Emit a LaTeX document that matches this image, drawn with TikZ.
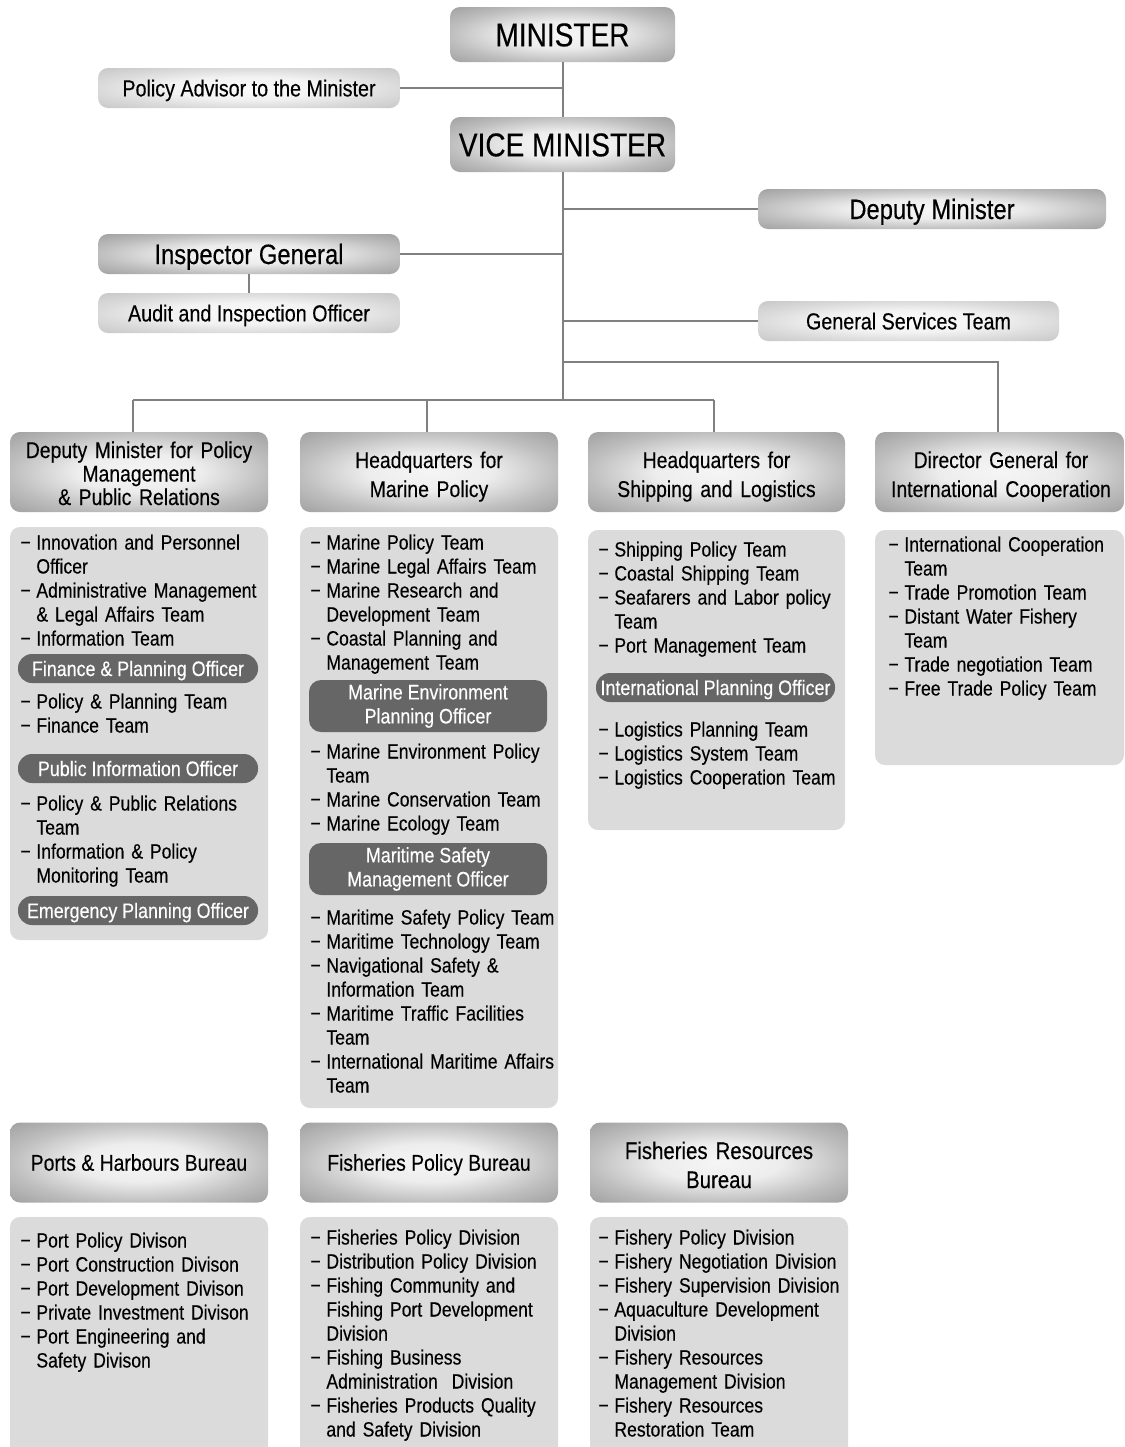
\documentclass[tikz,border=0pt]{standalone}
\usepackage{fontspec}
\setmainfont{Liberation Sans}[FakeStretch=0.85,FakeBold=0.3]
\definecolor{linecol}{HTML}{808080}
\definecolor{bodycol}{HTML}{DBDBDB}
\definecolor{pillcol}{HTML}{666666}
\definecolor{hdrin}{HTML}{F5F5F5}
\definecolor{hdrpl}{HTML}{EDEDED}
\definecolor{hdrmid}{HTML}{BEBEBE}
\definecolor{hdrout}{HTML}{A2A2A2}
\definecolor{ltin}{HTML}{FBFBFB}
\definecolor{ltpl}{HTML}{F2F2F2}
\definecolor{ltmid}{HTML}{DADADA}
\definecolor{ltout}{HTML}{C8C8C8}
\pgfdeclareradialshading{hdrshade}{\pgfpoint{0bp}{0bp}}{color(0bp)=(hdrin); color(12bp)=(hdrpl); color(25bp)=(hdrmid); color(35bp)=(hdrout); color(50bp)=(hdrout)}
\pgfdeclareradialshading{ltshade}{\pgfpoint{0bp}{0bp}}{color(0bp)=(ltin); color(14bp)=(ltpl); color(25bp)=(ltmid); color(35bp)=(ltout); color(50bp)=(ltout)}
\newcommand\itm[1]{\makebox[8pt][l]{−}#1}
\newcommand\cnt[1]{\hspace*{8pt}#1}
\tikzset{
  conn/.style={draw=linecol, line width=0.75pt},
  shadebox/.style={rounded corners=5pt, shading=hdrshade, inner sep=0pt},
  lightbox/.style={rounded corners=5pt, shading=ltshade, inner sep=0pt},
  bighdr/.style={shadebox, minimum width=112.5pt, minimum height=27.5pt, font=\fontsize{16.5}{18}\selectfont, text height=11.8pt, text depth=0pt},
  midhdr/.style={shadebox, minimum height=20pt, font=\fontsize{14}{16}\selectfont, text height=10pt, text depth=0pt},
  smallhdr/.style={lightbox, minimum height=20pt, font=\fontsize{11.6}{14}\selectfont, text height=8.4pt, text depth=0pt},
  colhdr/.style={shadebox, minimum width=129pt, minimum height=40pt},
  hdrtxt/.style={anchor=base, inner sep=0pt, text width=129pt, align=center, font=\fontsize{11.4}{14.5}\selectfont},
  colhdr1/.style={colhdr, font=\fontsize{11.4}{14.5}\selectfont, text height=8.2pt, text depth=0pt},
  bodybox/.style={fill=bodycol, rounded corners=5pt, inner sep=0pt, minimum width=129pt},
  pill/.style={fill=pillcol, text=white, rounded corners=6pt, inner sep=0pt, align=center, font=\fontsize{10.5}{12}\selectfont},
  pill1/.style={pill, minimum height=14.5pt, rounded corners=7pt, text height=7.5pt, text depth=0pt},
  lst/.style={anchor=base west, inner sep=0pt, text width=140pt, align=left, font=\fontsize{10.35}{12}\selectfont},
}
\begin{document}
\begin{tikzpicture}[x=0.5pt, y=-0.5pt]
\useasboundingbox (0,0) rectangle (1125,1447);
\clip (0,0) rectangle (1125,1447);
\fill[white] (0,0) rectangle (1125,1447);

% top level
\node[bighdr] (min) at (562.5,34.5) {MINISTER};
\node[smallhdr, minimum width=151pt] (adv) at (249,88) {Policy Advisor to the Minister};
\node[bighdr] (vice) at (562.5,144.5) {VICE MINISTER};
\node[midhdr, minimum width=174pt] (dep) at (932,209) {Deputy Minister};
\node[midhdr, minimum width=151pt] (insp) at (249,254) {Inspector General};
\node[smallhdr, minimum width=151pt] (aud) at (249,313) {Audit and Inspection Officer};
\node[smallhdr, minimum width=150.5pt] (gst) at (908.5,321) {General Services Team};

% column headers
\node[colhdr] (h1) at (139,472) {};
\node[colhdr] (h2) at (429,472) {};
\node[colhdr, minimum width=128.5pt] (h3) at (716.5,472) {};
\node[colhdr, minimum width=124.5pt] (h4) at (999.5,472) {};
\node[hdrtxt, font=\fontsize{11.4}{11.75}\selectfont] (h1t) at (139,458) {Deputy Minister for Policy\\Management\\\& Public Relations};
\node[hdrtxt] (h2t) at (429,468) {Headquarters for\\Marine Policy};
\node[hdrtxt] (h3t) at (716.5,468) {Headquarters for\\Shipping and Logistics};
\node[hdrtxt] (h4t) at (1001,468) {Director General for\\International Cooperation};

% connectors
\coordinate (j1) at (563,362);
\coordinate (j2) at (563,400);
\coordinate (t1) at (133,400);
\coordinate (t2) at (427,400);
\coordinate (t3) at (714,400);
\coordinate (t4) at (998,362);
\draw[conn] (min.south -| j1) -- (vice.north -| j1);
\draw[conn] (adv.east) -- (adv.east -| j1);
\draw[conn] (vice.south -| j1) -- (j2);
\draw[conn] (dep.west) -- (dep.west -| j1);
\draw[conn] (insp.east) -- (insp.east -| j1);
\draw[conn] (insp.south) -- (aud.north);
\draw[conn] (gst.west) -- (gst.west -| j1);
\draw[conn] (j1) -- (t4) -- (t4 |- h4.north);
\draw[conn] (t1) -- (t3);
\draw[conn] (t1) -- (t1 |- h1.north);
\draw[conn] (t2) -- (t2 |- h2.north);
\draw[conn] (t3) -- (t3 |- h3.north);

% body boxes
\node[bodybox, minimum height=206.5pt] (b1) at (139,733.5) {};
\node[bodybox, minimum height=290.5pt] (b2) at (429,817.5) {};
\node[bodybox, minimum width=128.5pt, minimum height=150pt] (b3) at (716.5,680) {};
\node[bodybox, minimum width=124.5pt, minimum height=117.5pt] (b4) at (999.5,647.5) {};

% pills
\node[pill1, minimum width=120pt] (p1) at (138,668.5) {Finance \& Planning Officer};
\node[pill1, minimum width=120pt] (p2) at (138,768.5) {Public Information Officer};
\node[pill1, minimum width=120pt] (p3) at (138,910.5) {Emergency Planning Officer};
\node[pill, minimum width=119pt, minimum height=26pt] (p4) at (428,706) {Marine Environment\\Planning Officer};
\node[pill, minimum width=119pt, minimum height=26pt] (p5) at (428,869) {Maritime Safety\\Management Officer};
\node[pill1, minimum width=119.5pt] (p6) at (715.5,687.5) {International Planning Officer};

% lists column 1
\node[lst] (l1a) at (20,549.5) {\itm{Innovation and Personnel}\\\cnt{Officer}\\\itm{Administrative Management}\\\cnt{\& Legal Affairs Team}\\\itm{Information Team}};
\node[lst] (l1b) at (20,708.5) {\itm{Policy \& Planning Team}\\\itm{Finance Team}};
\node[lst] (l1c) at (20,810.5) {\itm{Policy \& Public Relations}\\\cnt{Team}\\\itm{Information \& Policy}\\\cnt{Monitoring Team}};
% column 2
\node[lst] (l2a) at (310,549.5) {\itm{Marine Policy Team}\\\itm{Marine Legal Affairs Team}\\\itm{Marine Research and}\\\cnt{Development Team}\\\itm{Coastal Planning and}\\\cnt{Management Team}};
\node[lst] (l2b) at (310,758.5) {\itm{Marine Environment Policy}\\\cnt{Team}\\\itm{Marine Conservation Team}\\\itm{Marine Ecology Team}};
\node[lst] (l2c) at (310,924.5) {\itm{Maritime Safety Policy Team}\\\itm{Maritime Technology Team}\\\itm{Navigational Safety \&}\\\cnt{Information Team}\\\itm{Maritime Traffic Facilities}\\\cnt{Team}\\\itm{International Maritime Affairs}\\\cnt{Team}};
% column 3
\node[lst] (l3a) at (598,556.5) {\itm{Shipping Policy Team}\\\itm{Coastal Shipping Team}\\\itm{Seafarers and Labor policy}\\\cnt{Team}\\\itm{Port Management Team}};
\node[lst] (l3b) at (598,736.5) {\itm{Logistics Planning Team}\\\itm{Logistics System Team}\\\itm{Logistics Cooperation Team}};
% column 4
\node[lst] (l4) at (888,551.5) {\itm{International Cooperation}\\\cnt{Team}\\\itm{Trade Promotion Team}\\\itm{Distant Water Fishery}\\\cnt{Team}\\\itm{Trade negotiation Team}\\\itm{Free Trade Policy Team}};

% bottom row headers
\node[colhdr1] (h5) at (139,1162.5) {Ports \& Harbours Bureau};
\node[colhdr1] (h6) at (429,1162.5) {Fisheries Policy Bureau};
\node[colhdr] (h7) at (719,1162.5) {};
\node[hdrtxt, font=\fontsize{12}{14.5}\selectfont] (h7t) at (719,1159) {Fisheries Resources\\Bureau};

% bottom bodies
\node[bodybox, minimum height=126pt] (b5) at (139,1343) {};
\node[bodybox, minimum height=126pt] (b6) at (429,1343) {};
\node[bodybox, minimum height=126pt] (b7) at (719,1343) {};

\node[lst] (l5) at (20,1247.5) {\itm{Port Policy Divison}\\\itm{Port Construction Divison}\\\itm{Port Development Divison}\\\itm{Private Investment Divison}\\\itm{Port Engineering and}\\\cnt{Safety Divison}};
\node[lst] (l6) at (310,1244.5) {\itm{Fisheries Policy Division}\\\itm{Distribution Policy Division}\\\itm{Fishing Community and}\\\cnt{Fishing Port Development}\\\cnt{Division}\\\itm{Fishing Business}\\\cnt{Administration\ \ Division}\\\itm{Fisheries Products Quality}\\\cnt{and Safety Division}};
\node[lst] (l7) at (598,1244.5) {\itm{Fishery Policy Division}\\\itm{Fishery Negotiation Division}\\\itm{Fishery Supervision Division}\\\itm{Aquaculture Development}\\\cnt{Division}\\\itm{Fishery Resources}\\\cnt{Management Division}\\\itm{Fishery Resources}\\\cnt{Restoration Team}};
\end{tikzpicture}
\end{document}
